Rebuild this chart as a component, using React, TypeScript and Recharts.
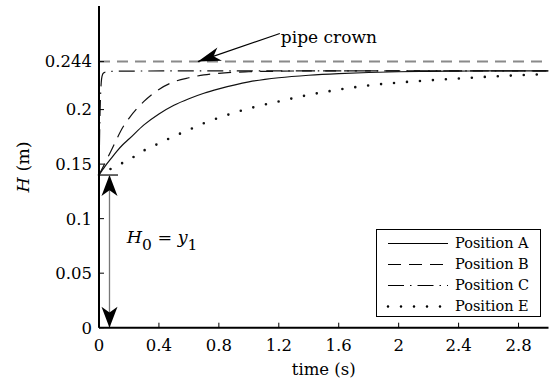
import React from "react"
import { LineChart, Line, XAxis, YAxis, ReferenceLine, ReferenceDot, Legend } from "recharts"

// time (s) and water depth H (m) per position
const timeA = [0, 0.02, 0.04, 0.08, 0.12, 0.16, 0.2, 0.3, 0.4, 0.5, 0.6, 0.7, 0.8, 1.0, 1.2, 1.4, 1.6, 1.8, 2.0, 2.2, 2.4, 2.6, 2.8, 3.0]
const heightA = [0.14, 0.144, 0.148, 0.155, 0.162, 0.168, 0.173, 0.186, 0.196, 0.204, 0.21, 0.215, 0.219, 0.2255, 0.2292, 0.2315, 0.233, 0.234, 0.2347, 0.2351, 0.2353, 0.2355, 0.2356, 0.2356]

const timeB = [0, 0.02, 0.04, 0.08, 0.12, 0.16, 0.2, 0.3, 0.4, 0.5, 0.6, 0.7, 0.8, 1.0, 1.2, 1.4, 1.6, 2.0, 2.4, 2.8, 3.0]
const heightB = [0.14, 0.1455, 0.151, 0.162, 0.1735, 0.184, 0.192, 0.2075, 0.2185, 0.2255, 0.2292, 0.2318, 0.2333, 0.2347, 0.2352, 0.2355, 0.2356, 0.2356, 0.2356, 0.2356, 0.2356]

const timeC = [0, 0.005, 0.01, 0.015, 0.02, 0.03, 0.05, 0.1, 0.3, 0.6, 1.0, 1.5, 2.0, 2.5, 3.0]
const heightC = [0.14, 0.185, 0.212, 0.225, 0.2305, 0.2335, 0.2347, 0.2352, 0.2354, 0.2355, 0.2356, 0.2356, 0.2356, 0.2356, 0.2356]

const timeE = [0, 0.04, 0.08, 0.12, 0.16, 0.2, 0.3, 0.4, 0.5, 0.6, 0.7, 0.8, 1.0, 1.2, 1.4, 1.6, 1.8, 2.0, 2.2, 2.4, 2.6, 2.8, 3.0]
const heightE = [0.14, 0.143, 0.1458, 0.1486, 0.1513, 0.154, 0.1625, 0.169, 0.1755, 0.1815, 0.1875, 0.1925, 0.201, 0.2075, 0.2135, 0.2183, 0.2222, 0.2248, 0.2268, 0.2285, 0.2302, 0.2315, 0.2327]

const xTicks = [0, 0.4, 0.8, 1.2, 1.6, 2, 2.4, 2.8]
const yTicks = [0, 0.05, 0.1, 0.15, 0.2, 0.244]
const yTicksRight = [0.05, 0.1, 0.15, 0.2]

const pipeCrown = 0.244
const initialDepth = 0.14

const FONT = '"DejaVu Serif", serif'

const zip = (t: number[], h: number[]) => t.map((time, i) => ({ time, h: h[i] }))

const series = [
  { name: "Position A", data: zip(timeA, heightA), dash: undefined, width: 1.2, cap: "butt" },
  { name: "Position B", data: zip(timeB, heightB), dash: "13 8", width: 1.2, cap: "butt" },
  { name: "Position C", data: zip(timeC, heightC), dash: "16 6 1.5 6", width: 1.2, cap: "butt" },
  { name: "Position E", data: zip(timeE, heightE), dash: "0 13", width: 2.6, cap: "round" },
]

// filled arrowhead with a notched back, tip at (tx, ty)
function head(tx: number, ty: number, fx: number, fy: number, len = 21, half = 8) {
  const d = Math.hypot(tx - fx, ty - fy) || 1
  const ux = (tx - fx) / d
  const uy = (ty - fy) / d
  const bx = tx - ux * len
  const by = ty - uy * len
  const nx = -uy
  const ny = ux
  const pts = [
    [tx, ty],
    [bx + nx * half, by + ny * half],
    [tx - ux * len * 0.72, ty - uy * len * 0.72],
    [bx - nx * half, by - ny * half],
  ]
  return <polygon points={pts.map((p) => p.join(",")).join(" ")} fill="#000" />
}

const DoubleArrow = (p: any) => (
  <g>
    <line x1={p.x1} y1={p.y1} x2={p.x2} y2={p.y2} stroke="#777" strokeWidth={1.3} />
    {head(p.x1, p.y1, p.x2, p.y2)}
    {head(p.x2, p.y2, p.x1, p.y1)}
  </g>
)

const CrownArrow = (p: any) => (
  <g>
    <line x1={p.x1} y1={p.y1} x2={p.x2} y2={p.y2} stroke="#000" strokeWidth={1.2} />
    {head(p.x2, p.y2, p.x1, p.y1, 23, 7)}
    <text x={p.x1 + 1} y={p.y1 + 10} style={{ fontFamily: FONT }} fontSize={17} fill="#000">
      pipe crown
    </text>
  </g>
)

const DepthLabel = (p: any) => (
  <text x={p.cx} y={p.cy} style={{ fontFamily: FONT }} fontSize={17.5} fill="#000">
    <tspan fontStyle="italic">H</tspan>
    <tspan dy={7} fontSize={15.5}>0</tspan>
    <tspan dy={-7}> = </tspan>
    <tspan fontStyle="italic">y</tspan>
    <tspan dy={7} fontSize={15.5}>1</tspan>
  </text>
)

const LegendBox = () => (
  <div
    style={{
      width: 165,
      height: 88,
      boxSizing: "border-box",
      border: "1.5px solid #000",
      background: "#fff",
      paddingTop: 3,
      fontFamily: FONT,
      fontSize: 14.5,
      color: "#000",
      whiteSpace: "nowrap",
    }}
  >
    {series.map((s) => (
      <div key={s.name} style={{ display: "flex", alignItems: "center", height: 21 }}>
        <svg width={78} height={21} style={{ flex: "none" }}>
          <line
            x1={11}
            x2={71}
            y1={10.5}
            y2={10.5}
            stroke="#000"
            strokeWidth={s.width}
            strokeDasharray={s.dash}
            strokeLinecap={s.cap as any}
          />
        </svg>
        <span style={{ lineHeight: "21px" }}>{s.name}</span>
      </div>
    ))}
  </div>
)

const tickStyle = { fill: "#000", fontSize: 16.5, style: { fontFamily: FONT } }

export default function App() {
  return (
    <div style={{ position: "absolute", left: 0, top: 0, background: "#fff", fontFamily: FONT }}>
      <LineChart width={551} height={385} margin={{ top: 6, right: 2.5, bottom: 0, left: 0 }} style={{ fontFamily: FONT }}>
        <XAxis
          dataKey="time"
          type="number"
          domain={[0, 3]}
          ticks={xTicks}
          allowDuplicatedCategory={false}
          height={57.3}
          tickSize={-5}
          tickMargin={17}
          tick={tickStyle}
          tickLine={{ stroke: "#000" }}
          axisLine={{ stroke: "#000", strokeWidth: 2 }}
          label={{ value: "time (s)", position: "insideBottom", offset: 10, fill: "#000", fontSize: 16.5, style: { fontFamily: FONT } }}
        />
        <XAxis
          xAxisId="top"
          orientation="top"
          type="number"
          domain={[0, 3]}
          ticks={xTicks}
          height={0}
          tickSize={-5}
          tickFormatter={() => ""}
          tickLine={{ stroke: "#000" }}
          axisLine={{ stroke: "#000", strokeWidth: 2 }}
        />
        <YAxis
          type="number"
          domain={[0, 0.295]}
          ticks={yTicks}
          width={99}
          tickSize={-5}
          tickMargin={12}
          tick={tickStyle}
          tickFormatter={(v: number) => String(v)}
          tickLine={{ stroke: "#000" }}
          axisLine={{ stroke: "#000", strokeWidth: 2 }}
          label={{
            content: (p: any) => {
              const vb = p.viewBox || { x: 0, y: 6, width: 99, height: 322 }
              const cx = vb.x + 29
              const cy = vb.y + vb.height / 2
              return (
                <text
                  x={cx}
                  y={cy}
                  transform={`rotate(-90 ${cx} ${cy})`}
                  textAnchor="middle"
                  style={{ fontFamily: FONT }}
                  fontSize={17.5}
                  fill="#000"
                >
                  <tspan fontStyle="italic">H</tspan> (m)
                </text>
              )
            },
          }}
        />
        <YAxis
          yAxisId="right"
          orientation="right"
          type="number"
          domain={[0, 0.295]}
          ticks={yTicksRight}
          width={0}
          tickSize={-5}
          tickFormatter={() => ""}
          tickLine={{ stroke: "#000" }}
          axisLine={{ stroke: "#000", strokeWidth: 2 }}
        />

        <ReferenceLine y={pipeCrown} stroke="#8a8a8a" strokeWidth={2} strokeDasharray="11 7" />

        {series.map((s) => (
          <Line
            key={s.name}
            data={s.data}
            dataKey="h"
            name={s.name}
            type="monotone"
            stroke="#111"
            strokeWidth={s.width}
            strokeDasharray={s.dash}
            strokeLinecap={s.cap as any}
            dot={false}
            activeDot={false}
            isAnimationActive={false}
          />
        ))}

        <ReferenceLine
          segment={[
            { x: 0, y: initialDepth },
            { x: 0.127, y: initialDepth },
          ]}
          stroke="#000"
          strokeWidth={1.2}
        />
        <ReferenceLine
          segment={[
            { x: 0.07, y: 0 },
            { x: 0.07, y: initialDepth },
          ]}
          shape={DoubleArrow}
        />
        <ReferenceLine
          segment={[
            { x: 1.207, y: 0.2698 },
            { x: 0.66, y: pipeCrown },
          ]}
          shape={CrownArrow}
        />
        <ReferenceDot x={0.185} y={0.0774} r={0} shape={DepthLabel} />

        <Legend
          layout="vertical"
          align="center"
          verticalAlign="middle"
          content={LegendBox}
          wrapperStyle={{ left: 376, top: 229, width: 165, height: 88 }}
        />
      </LineChart>
    </div>
  )
}
